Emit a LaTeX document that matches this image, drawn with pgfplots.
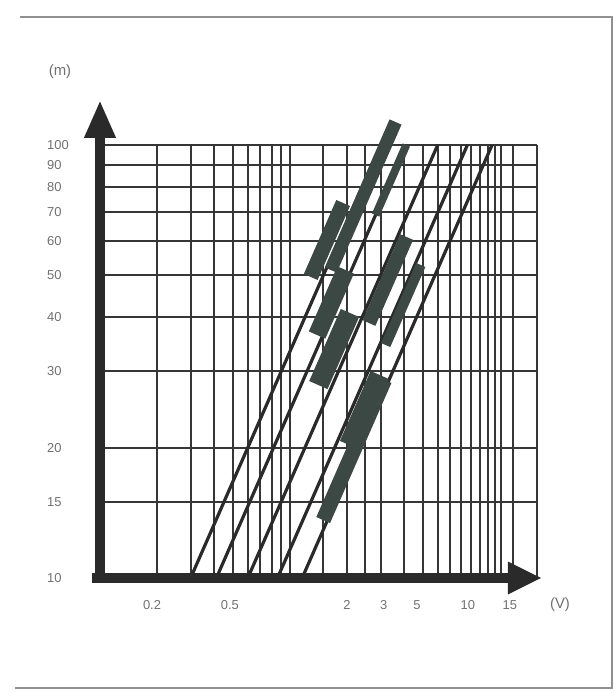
\documentclass[border=0pt]{standalone}
\usepackage{pgfplots}
\pgfplotsset{compat=1.18}
\usepackage{fontspec}
\setmainfont{Liberation Sans}
\usetikzlibrary{arrows.meta}
\definecolor{gridc}{HTML}{363636}
\definecolor{linec}{HTML}{2A2A2A}
\definecolor{bandc}{HTML}{3C4843}
\definecolor{labc}{HTML}{707070}
\definecolor{framec}{HTML}{909090}
\begin{document}
\begin{tikzpicture}
\useasboundingbox (-100bp,-115bp) rectangle (514bp,578bp);
% page frame
\draw[framec, line width=2.5bp] (-80bp,561bp) -- (512bp,561bp) -- (512bp,-110bp) -- (-85bp,-110bp);
\begin{axis}[
  xmode=log, ymode=log,
  xmin=0.1, xmax=20, ymin=10, ymax=100,
  width=437bp, height=433bp, scale only axis,
  axis line style={draw=none},
  xtick={0.2,0.3,0.4,0.5,0.6,0.7,0.8,0.9,1,1.5,2,2.5,3,4,5,6,7,8,9,10,11,12,13,15,20},
  ytick={10,15,20,30,40,50,60,70,80,90,100},
  xticklabels={\empty}, yticklabels={\empty},
  major tick length=0pt, minor tick length=0pt,
  grid=major, grid style={line width=2bp, color=gridc},
  clip=false,
]
% diagonal lines (slope 1 on log-log)
\addplot[linec, line width=3.2bp] coordinates {(0.3,10) (3.39,113)};
\addplot[linec, line width=3.2bp] coordinates {(0.41,10) (4.1,100)};
\addplot[linec, line width=3.2bp] coordinates {(0.6,10) (6.0,100)};
\addplot[linec, line width=3.2bp] coordinates {(0.86,10) (8.6,100)};
\addplot[linec, line width=3.2bp] coordinates {(1.16,10) (11.6,100)};
% thick bands
\addplot[bandc, line width=13bp, line cap=butt] coordinates {(3.60,113) (1.641,51.44)};
\addplot[bandc, line width=15bp, line cap=butt] coordinates {(1.907,73.47) (1.287,49.57)};
\addplot[bandc, line width=8bp, line cap=butt] coordinates {(4.1,100) (2.825,68.9)};
\addplot[bandc, line width=18bp, line cap=butt] coordinates {(1.965,51.44) (1.39,36.4)};
\addplot[bandc, line width=14bp, line cap=butt] coordinates {(4.12,61.3) (2.608,38.81)};
\addplot[bandc, line width=10bp, line cap=butt] coordinates {(4.887,52.83) (3.193,34.52)};
\addplot[bandc, line width=20bp, line cap=butt] coordinates {(2.071,40.93) (1.412,27.9)};
\addplot[bandc, line width=20bp, line cap=butt] coordinates {(2.972,29.43) (2.049,20.29)};
\addplot[bandc, line width=15bp, line cap=butt] coordinates {(3.15,28.66) (1.497,13.61)};
% axes arrows
\draw[linec, line width=10bp, -{Triangle[length=38bp,width=29bp]}]
  (rel axis cs:0,-0.0115) -- (rel axis cs:0,1.104);
\draw[linec, line width=10bp, -{Triangle[length=34bp,width=30bp]}]
  (rel axis cs:-0.0183,0) -- (rel axis cs:1.0114,0);
% y tick labels
\pgfplotsinvokeforeach{100,90,80,70,60,50,40,30,20,15,10}{
  \node[anchor=west, text=labc, font=\fontsize{13}{15}\selectfont, inner sep=0pt, xshift=-53bp]
    at (axis cs:0.1,#1) {#1};
}
% x tick labels
\node[text=labc, font=\fontsize{13}{15}\selectfont, yshift=-27bp] at (axis cs:0.188,10) {0.2};
\node[text=labc, font=\fontsize{13}{15}\selectfont, yshift=-27bp] at (axis cs:0.483,10) {0.5};
\node[text=labc, font=\fontsize{13}{15}\selectfont, yshift=-27bp] at (axis cs:2.0,10) {2};
\node[text=labc, font=\fontsize{13}{15}\selectfont, yshift=-27bp] at (axis cs:3.12,10) {3};
\node[text=labc, font=\fontsize{13}{15}\selectfont, yshift=-27bp] at (axis cs:4.66,10) {5};
\node[text=labc, font=\fontsize{13}{15}\selectfont, yshift=-27bp] at (axis cs:8.64,10) {10};
\node[text=labc, font=\fontsize{13}{15}\selectfont, yshift=-27bp] at (axis cs:14.4,10) {15};
\node[text=labc, font=\fontsize{15}{17}\selectfont, yshift=-27bp] at (rel axis cs:1.0526,0) {(V)};
\node[text=labc, font=\fontsize{15}{17}\selectfont] at (rel axis cs:-0.0915,1.1686) {(m)};
\end{axis}
\end{tikzpicture}
\end{document}
